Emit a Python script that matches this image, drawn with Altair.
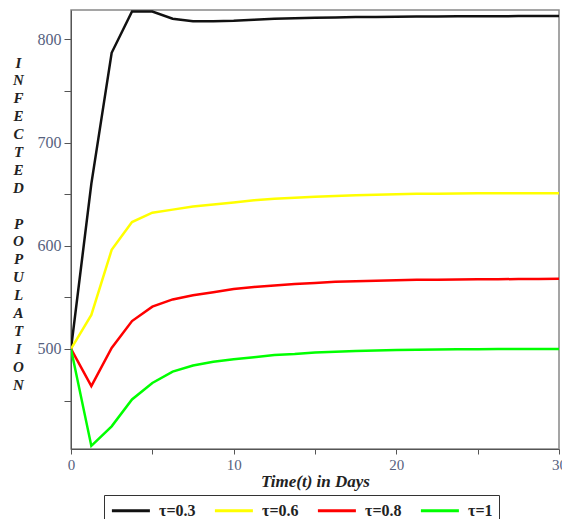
import altair as alt
import pandas as pd

times = [0, 1.25, 2.5, 3.75, 5, 6.25, 7.5, 8.75, 10, 11.25, 12.5, 13.75, 15,
         16.25, 17.5, 18.75, 20, 21.25, 22.5, 23.75, 25, 26.25, 27.5, 28.75, 30]

tau_03 = [500, 660, 787, 827, 827, 820, 817.5, 817.5, 818, 819, 820, 820.5, 821,
          821.3, 821.6, 821.8, 822, 822.2, 822.3, 822.4, 822.5, 822.5, 822.6, 822.6, 822.6]
tau_06 = [500, 533, 596, 623, 632, 635, 638, 640, 642, 644, 645.5, 646.5, 647.5,
          648.3, 649, 649.5, 650, 650.3, 650.5, 650.7, 650.8, 651, 651, 651, 651]
tau_08 = [500, 464, 501, 527, 541, 548, 552, 555, 558, 560, 561.5, 563, 564,
          565, 565.5, 566, 566.5, 567, 567, 567.3, 567.5, 567.6, 567.7, 567.8, 568]
tau_1 = [500, 406, 425, 451, 467, 478, 484, 487.5, 490, 492, 494, 495, 496.5,
         497.3, 498, 498.5, 499, 499.3, 499.5, 499.7, 499.8, 500, 500, 500, 500]

series_names = ["τ=0.3", "τ=0.6", "τ=0.8", "τ=1"]
series_values = [tau_03, tau_06, tau_08, tau_1]
series_colors = ["#111111", "#ffff00", "#ff0000", "#00ff00"]

y_ticks = [450, 500, 550, 600, 650, 700, 750, 800]
x_ticks = [0, 5, 10, 15, 20, 25, 30]

# blank braille cell keeps an empty line between the two words
y_title_letters = list("INFECTED") + ["\u2800"] + list("POPULATION")

rows = []
for name, vals in zip(series_names, series_values):
    for t, v in zip(times, vals):
        rows.append({"t": t, "value": v, "series": name})
df = pd.DataFrame(rows)

serif = "Liberation Serif"
label_color = "#56617e"

chart = alt.Chart(df).mark_line(strokeWidth=2.5, clip=True).encode(
    x=alt.X(
        "t:Q",
        scale=alt.Scale(domain=[0, 30], nice=False, zero=False),
        axis=alt.Axis(
            values=x_ticks,
            labelExpr="datum.value % 10 == 0 ? datum.label : ''",
            title="Time(t) in Days",
            titleFont=serif,
            titleFontSize=17,
            titleFontWeight="bold",
            titleFontStyle="italic",
            titleColor="#222222",
            titlePadding=1,
            labelFont=serif,
            labelFontSize=15,
            labelColor=label_color,
            labelPadding=3,
            tickSize=5,
            tickColor="#555555",
            domainColor="#555555",
            grid=False,
            labelFlush=False,
            labelOverlap=False,
        ),
    ),
    y=alt.Y(
        "value:Q",
        scale=alt.Scale(domain=[403, 828.5], nice=False, zero=False),
        axis=alt.Axis(
            values=y_ticks,
            labelExpr="datum.value % 100 == 0 ? datum.label : ''",
            title=y_title_letters,
            titleAngle=0,
            titleFont=serif,
            titleFontSize=15,
            titleFontWeight="bold",
            titleFontStyle="italic",
            titleColor="#222222",
            titleLineHeight=17.9,
            titleAlign="center",
            titleBaseline="top",
            titleX=-53,
            titleY=45,
            labelFont=serif,
            labelFontSize=16,
            labelColor=label_color,
            labelPadding=3,
            tickSize=7,
            tickColor="#555555",
            domainColor="#555555",
            grid=False,
            labelOverlap=False,
        ),
    ),
    color=alt.Color(
        "series:N",
        scale=alt.Scale(domain=series_names, range=series_colors),
        legend=alt.Legend(
            title=None,
            orient="none",
            legendX=33,
            legendY=485,
            direction="horizontal",
            columns=4,
            symbolType="M-1,0H4",
            symbolSize=231,
            symbolStrokeWidth=3,
            symbolFillColor="transparent",
            labelFont=serif,
            labelFontSize=16,
            labelFontWeight="bold",
            labelColor="#222222",
            labelOffset=30,
            columnPadding=12,
            padding=6,
            strokeColor="#333333",
            fillColor="white",
        ),
    ),
).properties(
    width=488,
    height=439,
    autosize=alt.AutoSizeParams(type="none"),
    padding={"left": 71, "top": 10, "right": 3, "bottom": 70},
).configure_view(
    stroke="#888888",
    strokeWidth=1.5,
)

chart.save("out.html", embed_options={"renderer": "svg", "actions": False})
